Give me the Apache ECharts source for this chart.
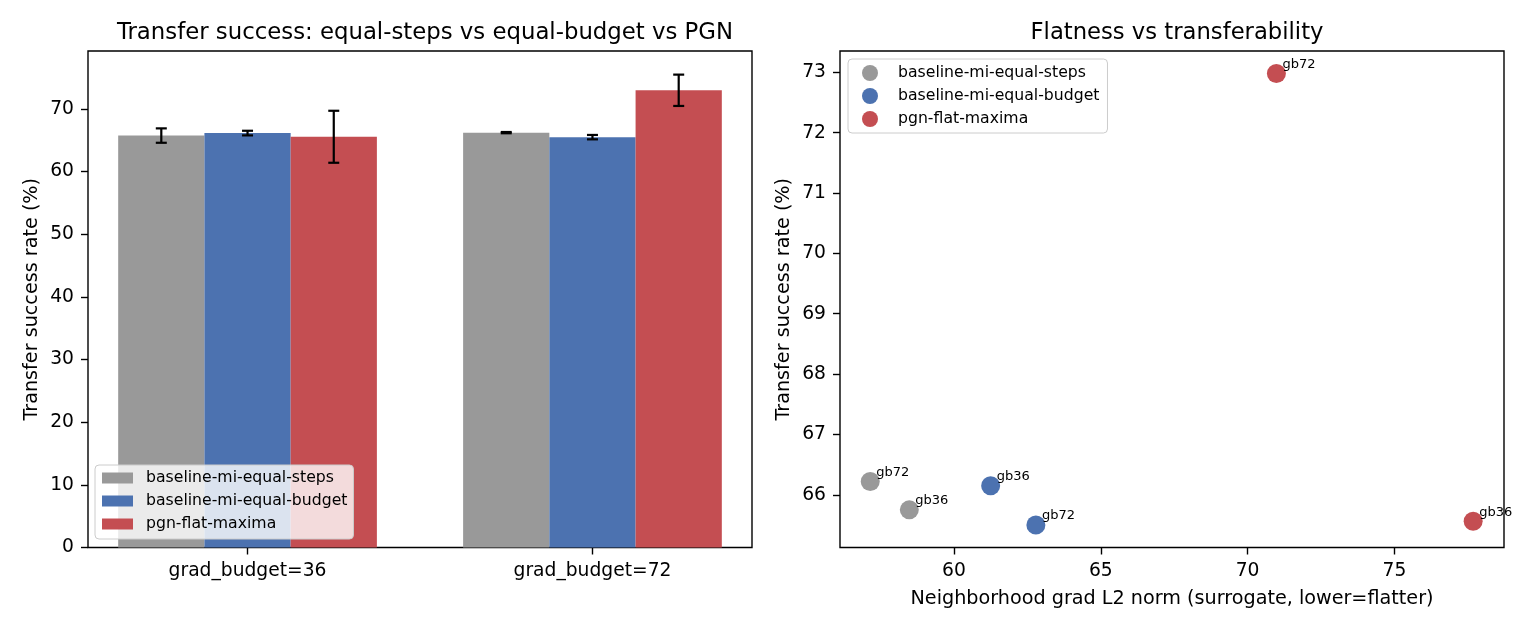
<!DOCTYPE html>
<html>
<head>
<meta charset="utf-8">
<script src="https://cdn.jsdelivr.net/npm/echarts@6/dist/echarts.min.js"></script>
<style>
html,body{margin:0;padding:0;background:#fff;}
#chart{width:1540px;height:630px;}
</style>
</head>
<body>
<div id="chart"></div>
<script>
// ---- data ----
const categories = ['grad_budget=36', 'grad_budget=72'];
const methods = ['baseline-mi-equal-steps', 'baseline-mi-equal-budget', 'pgn-flat-maxima'];
const pointLabels = ['gb36', 'gb72'];

const meanSteps = [65.75, 66.22];
const errSteps = [1.15, 0.10];
const meanBudget = [66.15, 65.50];
const errBudget = [0.37, 0.35];
const meanPgn = [65.56, 72.98];
const errPgn = [4.15, 2.50];

const gradSteps = [58.48, 57.15];
const gradBudget = [61.25, 62.79];
const gradPgn = [77.68, 70.98];

const leftYTicks = [0, 10, 20, 30, 40, 50, 60, 70];
const rightYTicks = [66, 67, 68, 69, 70, 71, 72, 73];
const rightXTicks = [60, 65, 70, 75];

// ---- styles ----
const FONT = 'DejaVu Sans';
const colors = ['#999999', '#4c72b0', '#c44e52'];
const offsets = [-0.25, 0, 0.25];
const barW = 0.25;
const means = [meanSteps, meanBudget, meanPgn];
const errs = [errSteps, errBudget, errPgn];
const grads = [gradSteps, gradBudget, gradPgn];

const chart = echarts.init(document.getElementById('chart'), null, {renderer: 'canvas'});

const tickStyle = {show: true, length: 7, inside: false, lineStyle: {color: '#000', width: 1.4}};
const labelStyle = {color: '#000', fontFamily: FONT, fontSize: 18.7};
const nameStyle = {color: '#000', fontFamily: FONT, fontSize: 19.2};
const noLine = {show: false, onZero: false};

const series = [];
methods.forEach((m, k) => {
  series.push({
    name: m, type: 'custom', xAxisIndex: 0, yAxisIndex: 0,
    itemStyle: {color: colors[k]}, z: 2,
    data: categories.map((c, i) => [i + offsets[k], means[k][i]]),
    renderItem: function (params, api) {
      const x = api.value(0), y = api.value(1);
      const p0 = api.coord([x - barW / 2, y]);
      const p1 = api.coord([x + barW / 2, 0]);
      return {type: 'rect', shape: {x: p0[0], y: p0[1], width: p1[0] - p0[0], height: p1[1] - p0[1]}, style: {fill: colors[k]}};
    }
  });
});
// error bars
const errData = [];
methods.forEach((m, k) => {
  categories.forEach((c, i) => errData.push([i + offsets[k], means[k][i], errs[k][i]]));
});
series.push({
  name: 'err', type: 'custom', xAxisIndex: 0, yAxisIndex: 0, z: 3, data: errData,
  renderItem: function (params, api) {
    const x = api.value(0), y = api.value(1), e = api.value(2);
    const t = api.coord([x, y + e]);
    const b = api.coord([x, y - e]);
    const cap = 5.5;
    const st = {stroke: '#000', lineWidth: 2.2};
    return {type: 'group', children: [
      {type: 'line', shape: {x1: t[0], y1: t[1], x2: b[0], y2: b[1]}, style: st},
      {type: 'line', shape: {x1: t[0] - cap, y1: t[1], x2: t[0] + cap, y2: t[1]}, style: st},
      {type: 'line', shape: {x1: b[0] - cap, y1: b[1], x2: b[0] + cap, y2: b[1]}, style: st}
    ]};
  }
});
// scatter
methods.forEach((m, k) => {
  series.push({
    name: m, type: 'scatter', xAxisIndex: 1, yAxisIndex: 1,
    symbol: 'circle', symbolSize: 19, itemStyle: {color: colors[k], opacity: 1}, z: 3,
    data: pointLabels.map((l, i) => [grads[k][i], means[k][i], l]),
    label: {show: true, position: 'inside', align: 'left', verticalAlign: 'bottom', offset: [6, -2.5],
      formatter: p => p.data[2], color: '#000', fontFamily: FONT, fontSize: 13},
    emphasis: {disabled: true}
  });
});

const option = {
  animation: false, backgroundColor: '#fff', textStyle: {fontFamily: FONT},
  title: [
    {text: 'Transfer success: equal-steps vs equal-budget vs PGN', left: 420, top: 17, textAlign: 'center',
     textStyle: {fontFamily: FONT, fontSize: 22.8, fontWeight: 'normal', color: '#000'}},
    {text: 'Flatness vs transferability', left: 1172, top: 17, textAlign: 'center',
     textStyle: {fontFamily: FONT, fontSize: 22.7, fontWeight: 'normal', color: '#000'}}
  ],
  grid: [
    {left: 88, top: 51, width: 664, height: 496.5, show: true, borderColor: '#000', borderWidth: 1.4, backgroundColor: 'transparent'},
    {left: 840, top: 51, width: 664, height: 496.5, show: true, borderColor: '#000', borderWidth: 1.4, backgroundColor: 'transparent'}
  ],
  legend: [
    {data: methods, orient: 'vertical', left: 95, top: 465, icon: 'rect', itemWidth: 31, itemHeight: 11, itemGap: 7,
     padding: [5, 6, 7, 7], backgroundColor: 'rgba(255,255,255,0.8)', borderColor: '#cccccc', borderWidth: 1, borderRadius: 4,
     textStyle: {fontFamily: FONT, fontSize: 15.7, color: '#000', lineHeight: 16, padding: [0, 0, 0, 8]}, selectedMode: false, z: 10},
    {data: methods, orient: 'vertical', left: 848, top: 59, icon: 'circle', itemWidth: 16, itemHeight: 16, itemGap: 7,
     padding: [6, 8, 6, 14], backgroundColor: 'rgba(255,255,255,0.8)', borderColor: '#cccccc', borderWidth: 1, borderRadius: 4,
     textStyle: {fontFamily: FONT, fontSize: 15.7, color: '#000', lineHeight: 16, padding: [0, 0, 0, 15]}, selectedMode: false, z: 10}
  ],
  xAxis: [
    {type: 'value', gridIndex: 0, min: -0.4625, max: 1.4625, axisLine: noLine, splitLine: {show: false},
     axisTick: Object.assign({customValues: categories.map((c, i) => i)}, tickStyle),
     axisLabel: Object.assign({customValues: categories.map((c, i) => i), margin: 14, formatter: v => categories[Math.round(v)]}, labelStyle)},
    {type: 'value', gridIndex: 1, min: 56.12, max: 78.73, axisLine: noLine, splitLine: {show: false},
     axisTick: Object.assign({customValues: rightXTicks}, tickStyle),
     axisLabel: Object.assign({customValues: rightXTicks, margin: 14}, labelStyle),
     name: 'Neighborhood grad L2 norm (surrogate, lower=flatter)', nameLocation: 'middle', nameGap: 42, nameTextStyle: nameStyle}
  ],
  yAxis: [
    {type: 'value', gridIndex: 0, min: 0, max: 79.25, axisLine: noLine, splitLine: {show: false},
     axisTick: Object.assign({customValues: leftYTicks}, tickStyle),
     axisLabel: Object.assign({customValues: leftYTicks, margin: 14}, labelStyle),
     name: 'Transfer success rate (%)', nameLocation: 'middle', nameGap: 46, nameTextStyle: nameStyle},
    {type: 'value', gridIndex: 1, min: 65.126, max: 73.354, axisLine: noLine, splitLine: {show: false},
     axisTick: Object.assign({customValues: rightYTicks}, tickStyle),
     axisLabel: Object.assign({customValues: rightYTicks, margin: 14}, labelStyle),
     name: 'Transfer success rate (%)', nameLocation: 'middle', nameGap: 46, nameTextStyle: nameStyle}
  ],
  series: series
};
chart.setOption(option);
</script>
</body>
</html>
